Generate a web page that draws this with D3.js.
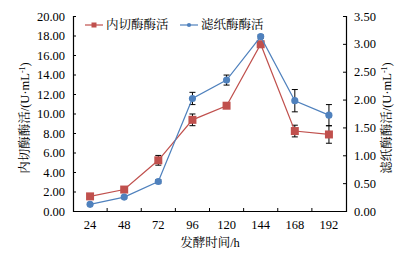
<!DOCTYPE html>
<html>
<head>
<meta charset="utf-8">
<script src="https://cdn.jsdelivr.net/npm/d3@7"></script>
<style>
  body { margin: 0; background: #fff; }
  svg text { font-family: "Liberation Serif", "Noto Serif CJK SC", "Noto Sans CJK SC", serif; fill: #000; }
</style>
</head>
<body>
<svg id="chart" width="405" height="255"></svg>
<script>
const hours = ["24", "48", "72", "96", "120", "144", "168", "192"];
const endoValues = [1.5, 2.2, 5.2, 9.35, 10.8, 17.1, 8.2, 7.85];
const endoErrors = [0.1, 0.1, 0.5, 0.6, 0.2, 0.3, 0.6, 0.9];
const fpValues = [0.12, 0.25, 0.53, 2.02, 2.35, 3.13, 1.98, 1.72];
const fpErrors = [0.02, 0.02, 0.03, 0.11, 0.09, 0.03, 0.2, 0.19];
const leftTicks = [0, 2, 4, 6, 8, 10, 12, 14, 16, 18, 20];
const rightTicks = [0, 0.5, 1, 1.5, 2, 2.5, 3, 3.5];

const red = "#C0504D", blue = "#4F81BD";
const plotLeft = 73, plotRight = 346, plotTop = 16, plotBottom = 211;

const svg = d3.select("#chart");

const x = d3.scaleBand().domain(hours).range([plotLeft, plotRight]);
const yL = d3.scaleLinear().domain([0, 20]).range([plotBottom, plotTop]);
const yR = d3.scaleLinear().domain([0, 3.5]).range([plotBottom, plotTop]);

// axes
const gx = svg.append("g").attr("transform", `translate(0,${plotBottom})`)
    .call(d3.axisBottom(x).tickSize(0).tickPadding(9));
gx.selectAll("text").attr("font-size", 12.5);
// category boundary ticks
gx.selectAll(".sep").data(hours.slice(1)).enter().append("line")
    .attr("x1", d => x(d)).attr("x2", d => x(d))
    .attr("y1", 0).attr("y2", -3).attr("stroke", "#000");

const gl = svg.append("g").attr("transform", `translate(${plotLeft},0)`)
    .call(d3.axisLeft(yL).tickValues(leftTicks).tickFormat(d3.format(".2f")).tickSize(-3).tickPadding(8));
gl.selectAll("text").attr("font-size", 12.5);

const gr = svg.append("g").attr("transform", `translate(${plotRight},0)`)
    .call(d3.axisRight(yR).tickValues(rightTicks).tickFormat(d3.format(".2f")).tickSize(-3).tickPadding(8));
gr.selectAll("text").attr("font-size", 12.5);

svg.selectAll(".domain").attr("stroke", "#000").attr("stroke-width", 1.2);
svg.selectAll(".tick line").attr("stroke", "#000");

// series
function drawSeries(values, errors, y, color, shape) {
    const g = svg.append("g");
    g.selectAll(".err").data(values).enter().append("g").each(function (d, i) {
        const cx = x(hours[i]) + x.bandwidth() / 2;
        const e = d3.select(this);
        const y1 = y(d - errors[i]), y2 = y(d + errors[i]);
        e.append("line").attr("x1", cx).attr("x2", cx).attr("y1", y1).attr("y2", y2).attr("stroke", "#000");
        e.append("line").attr("x1", cx - 3).attr("x2", cx + 3).attr("y1", y1).attr("y2", y1).attr("stroke", "#000");
        e.append("line").attr("x1", cx - 3).attr("x2", cx + 3).attr("y1", y2).attr("y2", y2).attr("stroke", "#000");
    });
    const line = d3.line().x((d, i) => x(hours[i]) + x.bandwidth() / 2).y(d => y(d));
    g.append("path").datum(values).attr("d", line).attr("fill", "none").attr("stroke", color).attr("stroke-width", 1.2);
    g.selectAll(".pt").data(values).enter().append("path")
        .attr("transform", (d, i) => `translate(${x(hours[i]) + x.bandwidth() / 2},${y(d)})`)
        .attr("d", d3.symbol().type(shape).size(shape === d3.symbolSquare ? 64 : 40))
        .attr("fill", color);
}
drawSeries(endoValues, endoErrors, yL, red, d3.symbolSquare);
drawSeries(fpValues, fpErrors, yR, blue, d3.symbolCircle);

// legend
const legend = [
    { name: "内切酶酶活", color: red, shape: d3.symbolSquare, size: 25, x: 85 },
    { name: "滤纸酶酶活", color: blue, shape: d3.symbolCircle, size: 14, x: 180 }
];
const lg = svg.append("g").selectAll("g").data(legend).enter().append("g")
    .attr("transform", d => `translate(${d.x},25)`);
lg.append("line").attr("x1", 0).attr("x2", 18).attr("stroke", d => d.color).attr("stroke-width", 1.2);
lg.append("path").attr("transform", "translate(9,0)")
    .attr("d", d => d3.symbol().type(d.shape).size(d.size)()).attr("fill", d => d.color);
lg.append("text").attr("x", 21).attr("dy", "0.35em").attr("font-size", 12.5).text(d => d.name);

// titles
svg.append("text").attr("x", 210).attr("y", 247).attr("text-anchor", "middle").attr("font-size", 12.5).text("发酵时间/h");
svg.append("text").attr("transform", "translate(29,118) rotate(-90)").attr("text-anchor", "middle").attr("font-size", 12.5)
    .html("内切酶酶活/(U·mL<tspan dy='-4' font-size='8'>-1</tspan><tspan dy='4'>)</tspan>");
svg.append("text").attr("transform", "translate(391,118) rotate(-90)").attr("text-anchor", "middle").attr("font-size", 12.5)
    .html("滤纸酶酶活/(U·mL<tspan dy='-4' font-size='8'>-1</tspan><tspan dy='4'>)</tspan>");
</script>
</body>
</html>
